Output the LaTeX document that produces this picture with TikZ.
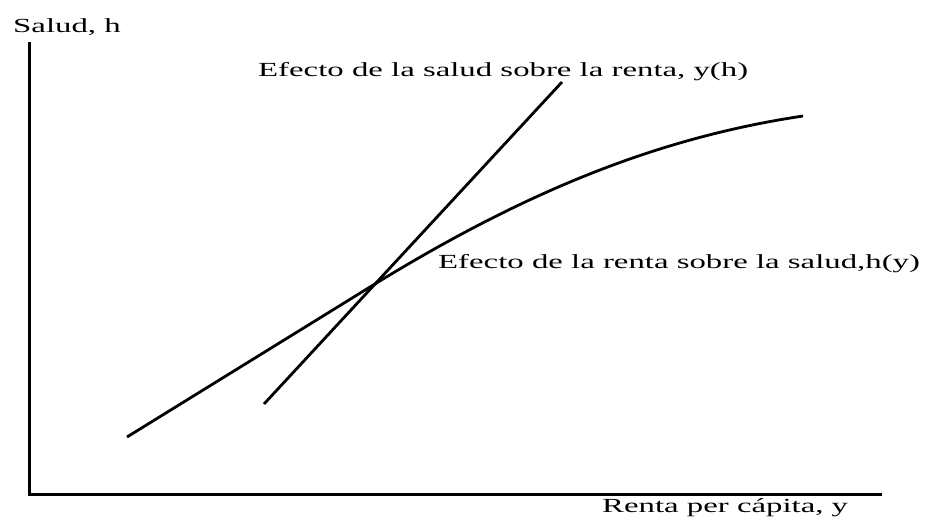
\documentclass[tikz,border=0pt]{standalone}
\usepackage{fontspec}
\usepackage{graphicx}
\setmainfont{Liberation Serif}
\begin{document}
\begin{tikzpicture}[x=1pt,y=-1pt,
  lbl/.style={anchor=base west,inner sep=0pt,font=\fontsize{20}{24}\selectfont},
  axisline/.style={line width=3pt},
  curveline/.style={line width=2.8pt}]
\useasboundingbox (0,0) rectangle (926,523);
\coordinate (O) at (29,494);
\coordinate (ytop) at (29,42);
\coordinate (xend) at (882,494);
\draw[axisline] (ytop) -- (O) -- (xend);
% y(h) straight line
\coordinate (s1) at (264,404);
\coordinate (s2) at (562,82);
\draw[curveline] (s1) -- (s2);
% h(y) curve
\coordinate (c0) at (127,437);
\coordinate (cx) at (370,287);
\coordinate (c3) at (803,116);
\draw[curveline] (c0) -- (cx) .. controls (520,194.5) and (653,138.5) .. (c3);
\node[lbl] (ylab) at (13,32) {\scalebox{1.64}[1]{Salud, h}};
\node[lbl] (xlab) at (602,512) {\scalebox{1.64}[1]{Renta per cápita, y}};
\node[lbl] (yh) at (258,76) {\scalebox{1.64}[1]{Efecto de la salud sobre la renta, y(h)}};
\node[lbl] (hy) at (438,268) {\scalebox{1.64}[1]{Efecto de la renta sobre la salud,h(y)}};
\end{tikzpicture}
\end{document}
